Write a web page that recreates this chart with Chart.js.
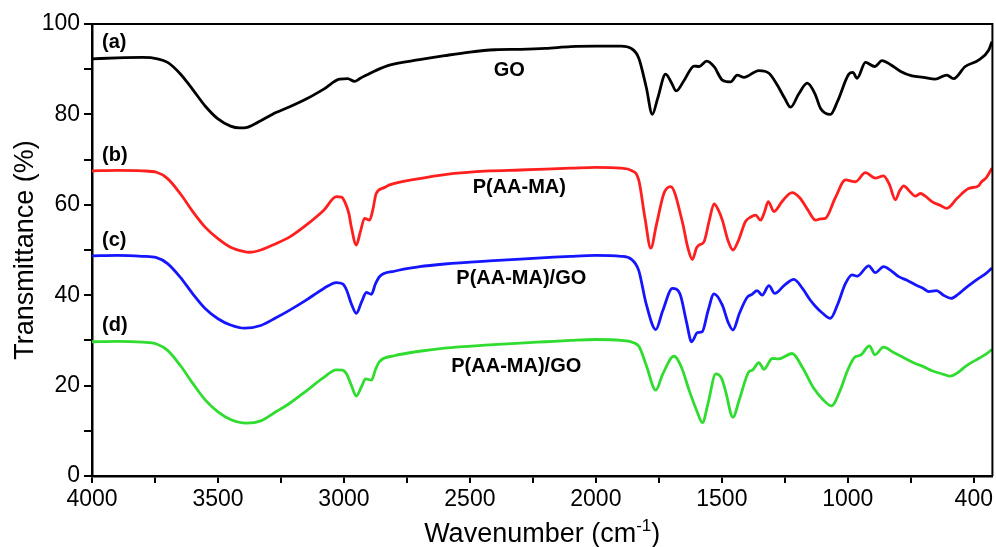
<!DOCTYPE html>
<html>
<head>
<meta charset="utf-8">
<script src="https://cdn.jsdelivr.net/npm/chart.js@4/dist/chart.umd.min.js"></script>
<style>
html,body{margin:0;padding:0;background:#fff;}
#wrap{width:996px;height:547px;}
</style>
</head>
<body>
<div id="wrap"><canvas id="c" width="996" height="547"></canvas></div>
<script>
// ---- data (wavenumber cm-1, transmittance %) ----
const goWn = [4000,3900,3800,3740,3700,3650,3600,3550,3500,3450,3414,3380,3330,3270,3215,3150,3080,3017,2985,2958,2935,2910,2870,2819,2700,2600,2500,2400,2300,2200,2100,2000,1900,1860,1830,1800,1776,1755,1723,1700,1681,1650,1610,1590,1560,1530,1498,1465,1439,1412,1353,1313,1280,1250,1227,1195,1161,1130,1108,1069,1040,996,980,963,930,893,864,830,790,745,700,653,607,580,534,481,441,428];
const goT  = [92.3,92.5,92.6,92.3,91.5,89.0,85.5,81.8,79.0,77.4,77.0,77.2,78.6,80.4,81.7,83.4,85.6,87.8,87.9,87.3,88.0,88.7,89.8,90.9,92.1,93.0,93.8,94.3,94.4,94.6,95.0,95.1,95.1,94.6,92.5,86.0,80.0,83.5,88.9,87.0,85.2,87.5,90.7,90.6,91.8,90.5,87.6,87.2,88.7,88.2,89.7,89.1,86.5,83.5,81.6,84.5,86.9,84.5,81.3,80.0,83.0,88.9,89.3,88.0,91.5,90.6,91.9,91.0,89.5,88.5,88.2,87.8,88.7,87.9,90.6,92.0,94.2,96.1];

const paaWn = [4000,3900,3800,3744,3700,3650,3600,3550,3500,3450,3400,3374,3330,3270,3215,3150,3080,3030,3010,2997,2980,2971,2951,2935,2918,2898,2885,2872,2840,2819,2700,2600,2423,2300,2200,2100,2000,1900,1860,1830,1805,1782,1760,1730,1703,1657,1635,1617,1600,1591,1571,1550,1531,1515,1498,1475,1456,1435,1406,1385,1366,1346,1330,1316,1293,1260,1221,1190,1160,1128,1108,1089,1050,1009,970,930,891,858,835,811,795,778,755,732,712,690,666,630,607,565,521,481,469,450,428];
const paaT  = [67.5,67.6,67.5,67.2,65.8,62.5,58.5,55.0,52.5,50.6,49.7,49.5,50.0,51.4,52.9,55.5,58.8,61.8,61.7,60.7,58.0,55.2,51.1,54.0,57.0,56.6,59.0,62.5,63.8,64.4,65.8,66.7,67.5,67.7,67.9,68.1,68.3,68.1,67.6,65.5,57.0,50.4,55.5,62.5,64.0,56.3,50.5,47.9,50.5,51.1,51.8,56.5,60.2,59.0,56.6,52.0,50.0,52.0,56.3,57.3,57.7,56.6,58.5,60.7,58.5,60.8,62.7,61.5,59.0,56.6,56.9,57.0,61.5,65.5,65.1,67.1,65.9,66.4,64.5,61.1,63.0,64.2,63.0,61.9,62.5,61.8,60.7,59.8,59.2,61.5,63.6,64.2,65.1,66.0,68.1];

const gocWn = [4000,3900,3800,3744,3700,3650,3600,3550,3500,3450,3394,3330,3270,3215,3150,3080,3030,3005,2990,2970,2951,2930,2911,2891,2875,2859,2800,2700,2600,2423,2300,2200,2100,2000,1900,1860,1830,1800,1762,1735,1696,1667,1640,1620,1597,1578,1555,1531,1498,1475,1456,1430,1400,1380,1360,1340,1313,1290,1250,1214,1180,1150,1128,1100,1069,1040,1010,983,963,917,891,858,830,798,765,732,700,679,648,620,590,560,534,481,450,428];
const gocT  = [48.7,48.8,48.6,48.3,47.0,44.0,40.3,37.0,34.8,33.4,32.7,33.3,35.0,36.7,38.9,41.5,42.8,42.5,41.2,38.0,36.0,38.5,40.6,40.2,42.5,44.1,45.3,46.3,46.9,47.6,48.0,48.3,48.6,48.8,48.6,48.0,45.5,38.0,32.4,36.5,41.5,40.4,34.0,29.7,31.7,31.9,36.5,40.3,37.8,34.0,32.3,36.0,39.5,40.2,41.0,40.0,42.1,40.4,42.3,43.5,41.5,39.0,37.5,36.0,34.9,38.0,42.5,44.5,44.2,46.5,45.0,46.3,45.5,44.1,43.3,42.3,41.5,40.8,41.0,40.0,39.3,40.3,41.5,43.7,44.9,46.0];

const godWn = [4000,3900,3800,3744,3700,3650,3600,3550,3500,3450,3387,3330,3270,3215,3150,3080,3030,3005,2990,2970,2951,2930,2914,2891,2875,2859,2800,2700,2600,2423,2300,2200,2100,2000,1900,1850,1828,1800,1762,1735,1690,1660,1630,1600,1577,1555,1524,1500,1485,1456,1430,1392,1379,1353,1333,1300,1276,1221,1180,1135,1100,1065,1030,1000,970,950,914,893,858,820,785,732,700,666,620,594,560,534,481,450,428];
const godT  = [29.7,29.8,29.6,29.2,27.8,24.5,20.5,16.8,14.2,12.5,11.7,12.2,14.2,16.1,18.8,21.8,23.5,23.4,22.6,20.0,17.7,19.8,21.5,21.2,23.5,25.3,26.6,27.6,28.3,29.0,29.4,29.7,30.0,30.2,30.0,29.5,28.6,24.5,19.0,22.5,26.5,24.0,19.0,14.5,11.8,16.0,22.6,21.5,18.7,13.0,17.0,23.1,23.4,25.1,23.6,26.0,25.9,27.1,24.0,19.4,17.0,15.5,19.0,23.5,26.4,26.7,28.8,26.8,28.5,27.4,26.4,24.9,24.2,23.3,22.5,22.1,23.0,24.2,26.0,27.0,28.0];

const seriesNames  = ['GO','P(AA-MA)','P(AA-MA)/GO','P(AA-MA)/GO'];
const seriesColors = ['#000000','#ff1f1f','#1515ff','#2fdc2f'];

const xTickValues = [4000,3750,3500,3250,3000,2750,2500,2250,2000,1750,1500,1250,1000,750,500];
const xTickLabels = ['4000','','3500','','3000','','2500','','2000','','1500','','1000','','400'];
const yTickValues = [0,10,20,30,40,50,60,70,80,90,100];
const yTickLabels = ['0','','20','','40','','60','','80','','100'];

// annotation texts placed at data coordinates
const noteTexts = ['(a)','(b)','(c)','(d)','GO','P(AA-MA)','P(AA-MA)/GO','P(AA-MA)/GO'];
const noteWn    = [3960,3960,3960,3960,2344,2304,2296,2316];
const noteT     = [95.8,71.0,52.2,33.4,89.8,63.9,43.8,24.3];
const noteAlign = ['left','left','left','left','center','center','center','center'];

function pts(wn, t){ return wn.map((w,i)=>({x:w, y:t[i]})); }
const allSeries = [pts(goWn,goT), pts(paaWn,paaT), pts(gocWn,gocT), pts(godWn,godT)];

const FONT = '"Liberation Sans", Arial, sans-serif';

const decor = {
  id:'decor',
  afterDatasetsDraw(chart){
    const ctx = chart.ctx, ca = chart.chartArea;
    const xs = chart.scales.x, ys = chart.scales.y;
    ctx.save();
    // frame top/right
    ctx.strokeStyle = '#000'; ctx.lineWidth = 2;
    ctx.beginPath();
    ctx.moveTo(ca.left, ca.top); ctx.lineTo(ca.right, ca.top); ctx.lineTo(ca.right, ca.bottom);
    ctx.stroke();
    // annotations
    ctx.fillStyle = '#000';
    ctx.font = 'bold 20px ' + FONT;
    ctx.textBaseline = 'middle';
    noteTexts.forEach((t,i)=>{
      ctx.textAlign = noteAlign[i];
      ctx.fillText(t, xs.getPixelForValue(noteWn[i]), ys.getPixelForValue(noteT[i]));
    });
    // x title with superscript
    ctx.textBaseline = 'alphabetic';
    ctx.textAlign = 'left';
    const a = 'Wavenumber (cm', sup = '-1', b = ')';
    ctx.font = '27px ' + FONT; const wa = ctx.measureText(a).width, wb = ctx.measureText(b).width;
    ctx.font = '17px ' + FONT; const ws = ctx.measureText(sup).width;
    const total = wa + ws + wb;
    let x0 = (ca.left + ca.right)/2 - total/2;
    const by = 542;
    ctx.font = '27px ' + FONT; ctx.fillText(a, x0, by);
    ctx.font = '17px ' + FONT; ctx.fillText(sup, x0 + wa, by - 11);
    ctx.font = '27px ' + FONT; ctx.fillText(b, x0 + wa + ws, by);
    // y title
    ctx.translate(26, (ca.top + ca.bottom)/2);
    ctx.rotate(-Math.PI/2);
    ctx.textAlign = 'center'; ctx.textBaseline = 'middle';
    ctx.font = '27px ' + FONT;
    ctx.fillText('Transmittance (%)', 0, 0);
    ctx.restore();
  }
};

new Chart(document.getElementById('c'), {
  type:'line',
  data:{
    datasets: allSeries.map((d,i)=>({
      label: seriesNames[i],
      data: d,
      borderColor: seriesColors[i],
      borderWidth: 2.8,
      pointRadius: 0,
      fill: false,
      cubicInterpolationMode: 'monotone'
    }))
  },
  options:{
    responsive:false,
    animation:false,
    layout:{padding:{top:24,right:2,left:0,bottom:0}},
    plugins:{legend:{display:false}, tooltip:{enabled:false}},
    scales:{
      x:{
        type:'linear', reverse:true, min:426, max:4000,
        afterBuildTicks(s){ s.ticks = xTickValues.map(v=>({value:v})); },
        afterFit(s){ s.height = 71; },
        ticks:{
          autoSkip:false, maxRotation:0, color:'#000', padding:3,
          font:{family:FONT, size:23},
          callback(v){ const i = xTickValues.indexOf(v); return i>=0 ? xTickLabels[i] : ''; }
        },
        grid:{drawOnChartArea:false, drawTicks:true, tickLength:7, color:'#000', lineWidth:2},
        border:{display:true, color:'#000', width:2.5}
      },
      y:{
        type:'linear', min:0, max:100,
        afterBuildTicks(s){ s.ticks = yTickValues.map(v=>({value:v})); },
        afterFit(s){ s.width = 92; },
        ticks:{
          autoSkip:false, color:'#000', padding:4,
          font:{family:FONT, size:23},
          callback(v){ const i = yTickValues.indexOf(v); return i>=0 ? yTickLabels[i] : ''; }
        },
        grid:{drawOnChartArea:false, drawTicks:true, tickLength:8, color:'#000', lineWidth:2},
        border:{display:true, color:'#000', width:2.5}
      }
    }
  },
  plugins:[decor]
});
</script>
</body>
</html>
